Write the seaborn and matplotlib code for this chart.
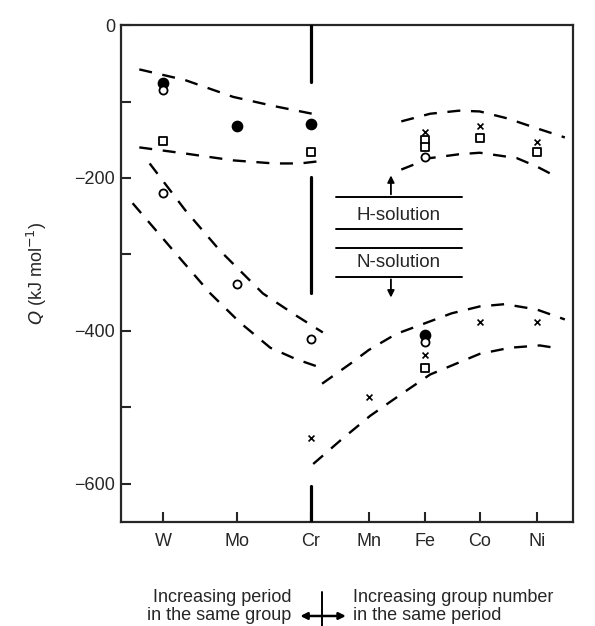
import pandas as pd
import matplotlib
matplotlib.use("Agg")
import matplotlib.pyplot as plt
import seaborn as sns

ELEMENTS = ["W", "Mo", "Cr", "Mn", "Fe", "Co", "Ni"]
ELEMENT_X = [1.0, 2.0, 3.0, 3.78, 4.54, 5.28, 6.05]

# measured Q values (kJ/mol), grouped by symbol
FILLED_EL = ["W", "Mo", "Cr", "Fe"]
FILLED_Q = [-76, -132, -130, -405]
OPEN_EL = ["W", "W", "Mo", "Cr", "Fe", "Fe"]
OPEN_Q = [-85, -220, -338, -411, -172, -415]
SQUARE_EL = ["W", "Cr", "Fe", "Fe", "Co", "Ni", "Fe"]
SQUARE_Q = [-152, -166, -150, -160, -148, -166, -448]
CROSS_EL = ["Fe", "Co", "Ni", "Cr", "Mn", "Fe", "Co", "Ni"]
CROSS_Q = [-140, -132, -153, -540, -486, -432, -388, -388]

# dashed band edges (x in element-axis units)
BAND_A_TOP_X = [0.68, 1.3, 1.95, 2.5, 3.12]
BAND_A_TOP_Q = [-58, -72, -94, -106, -118]
BAND_A_BOT_X = [0.68, 1.3, 1.95, 2.5, 2.85, 3.12]
BAND_A_BOT_Q = [-160, -168, -177, -181, -181, -178]
BAND_B_TOP_X = [0.82, 1.3, 1.77, 2.35, 2.8, 3.16]
BAND_B_TOP_Q = [-181, -242, -295, -351, -380, -402]
BAND_B_BOT_X = [0.59, 1.14, 1.64, 2.04, 2.45, 2.8, 3.1]
BAND_B_BOT_Q = [-233, -295, -351, -389, -422, -437, -447]
BAND_C_TOP_X = [3.15, 3.53, 3.78, 4.15, 4.54, 4.9, 5.28, 5.62, 6.05, 6.43]
BAND_C_TOP_Q = [-469, -443, -425, -404, -390, -377, -368, -365, -372, -385]
BAND_C_BOT_X = [3.03, 3.4, 3.8, 4.2, 4.61, 5.28, 5.69, 6.09, 6.36]
BAND_C_BOT_Q = [-574, -543, -511, -484, -457, -430, -422, -419, -423]
BAND_D_TOP_X = [4.22, 4.61, 5.0, 5.28, 5.65, 6.05, 6.43]
BAND_D_TOP_Q = [-126, -116, -112, -113, -122, -135, -147]
BAND_D_BOT_X = [4.22, 4.61, 5.0, 5.28, 5.78, 6.05, 6.27]
BAND_D_BOT_Q = [-189, -174, -169, -167, -174, -185, -196]

# Cr divider pieces (Q ranges)
CR_SEGMENTS = [(0, -75), (-199, -350), (-603, -650)]

xpos = dict(zip(ELEMENTS, ELEMENT_X))

sns.set_style("ticks")
plt.rcParams["font.family"] = ["Liberation Sans", "DejaVu Sans"]

fig = plt.figure(figsize=(5.95, 6.26), dpi=100)
ax = fig.add_axes([0.203, 0.166, 0.760, 0.794])

points = pd.concat([
    pd.DataFrame({"el": FILLED_EL, "Q": FILLED_Q, "kind": "filled"}),
    pd.DataFrame({"el": OPEN_EL, "Q": OPEN_Q, "kind": "open"}),
    pd.DataFrame({"el": SQUARE_EL, "Q": SQUARE_Q, "kind": "square"}),
    pd.DataFrame({"el": CROSS_EL, "Q": CROSS_Q, "kind": "cross"}),
], ignore_index=True)
points["x"] = points["el"].map(xpos)

styles = {
    "filled": dict(marker="o", s=55, color="black", edgecolor="black", linewidth=1),
    "open": dict(marker="o", s=34, facecolor="white", edgecolor="black", linewidth=1.3),
    "square": dict(marker="s", s=38, facecolor="white", edgecolor="black", linewidth=1.3),
    "cross": dict(marker="x", s=18, color="black", linewidth=1.2),
}
for kind, kw in styles.items():
    sub = points[points["kind"] == kind]
    sns.scatterplot(data=sub, x="x", y="Q", ax=ax, zorder=4, legend=False, **kw)

bands = [
    (BAND_A_TOP_X, BAND_A_TOP_Q), (BAND_A_BOT_X, BAND_A_BOT_Q),
    (BAND_B_TOP_X, BAND_B_TOP_Q), (BAND_B_BOT_X, BAND_B_BOT_Q),
    (BAND_C_TOP_X, BAND_C_TOP_Q), (BAND_C_BOT_X, BAND_C_BOT_Q),
    (BAND_D_TOP_X, BAND_D_TOP_Q), (BAND_D_BOT_X, BAND_D_BOT_Q),
]
for bx, bq in bands:
    sns.lineplot(x=bx, y=bq, ax=ax, color="black", linewidth=1.7, sort=False,
                 estimator=None, linestyle=(0, (5.5, 4.5)), zorder=3)

for top, bot in CR_SEGMENTS:
    ax.plot([xpos["Cr"], xpos["Cr"]], [top, bot], color="black", linewidth=2.3, zorder=3)

# H-solution / N-solution key
for q in [-225, -267, -291, -329]:
    ax.plot([3.34, 5.04], [q, q], color="black", linewidth=1.4)
ax.text(4.19, -249, "H-solution", ha="center", va="center", fontsize=13.5)
ax.text(4.19, -311, "N-solution", ha="center", va="center", fontsize=13.5)
ax.annotate("", xy=(4.08, -193), xytext=(4.08, -225),
            arrowprops=dict(arrowstyle="-|>", color="black", lw=1.3, mutation_scale=10))
ax.annotate("", xy=(4.08, -360), xytext=(4.08, -329),
            arrowprops=dict(arrowstyle="-|>", color="black", lw=1.3, mutation_scale=10))

ax.set_xlim(0.43, 6.54)
ax.set_ylim(-650, 0)
ax.set_xticks(ELEMENT_X)
ax.set_xticklabels(ELEMENTS, fontsize=13)
ax.set_yticks([0, -200, -400, -600])
ax.set_yticks([-100, -300, -500], minor=True)
ax.set_yticklabels(["0", "\u2212200", "\u2212400", "\u2212600"], fontsize=13)
ax.tick_params(axis="both", which="both", direction="in", width=1.5, length=7)
ax.tick_params(axis="x", pad=8)
ax.tick_params(axis="y", pad=4)
ax.set_xlabel("")
ax.set_ylabel(r"$Q$ (kJ mol$^{-1}$)", fontsize=13, labelpad=18)
for sp in ax.spines.values():
    sp.set_linewidth(1.6)
    sp.set_visible(True)

# bottom direction note
fig.text(0.490, 0.031, "Increasing period\nin the same group", ha="right", va="center",
         fontsize=13, linespacing=1.1)
fig.text(0.594, 0.031, "Increasing group number\nin the same period", ha="left", va="center",
         fontsize=13, linespacing=1.1)
fig.add_artist(matplotlib.patches.FancyArrowPatch((0.500, 0.016), (0.586, 0.016),
               transform=fig.transFigure, arrowstyle="<|-|>", mutation_scale=10,
               color="black", lw=1.8))
fig.add_artist(matplotlib.lines.Line2D([0.542, 0.542], [0.0, 0.055],
               transform=fig.transFigure, color="black", lw=1.4))

fig.savefig("out.png", dpi=100)
